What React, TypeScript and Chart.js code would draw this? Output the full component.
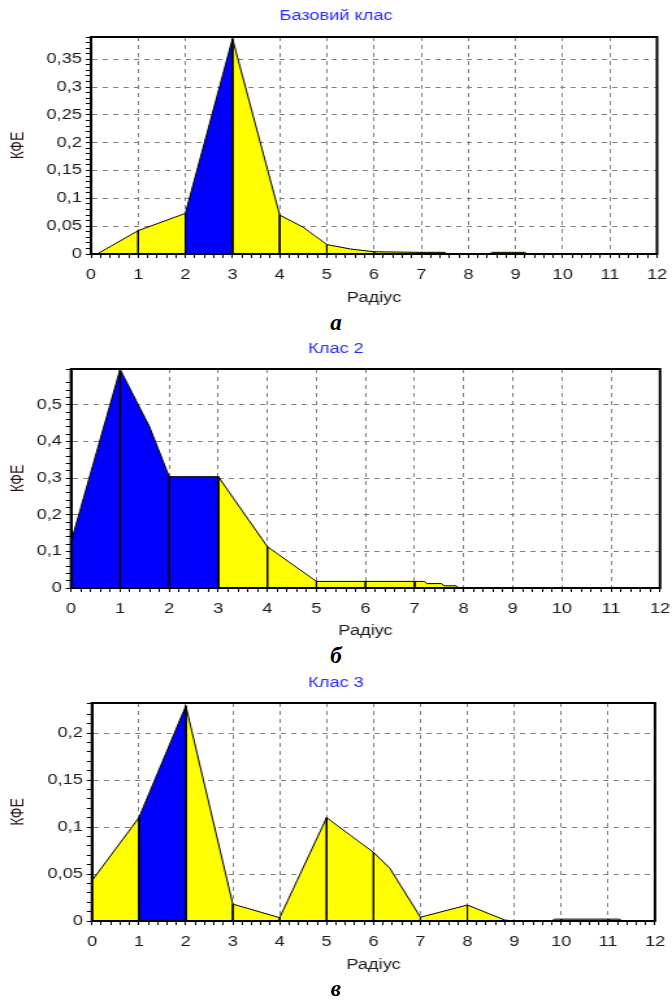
import React, { useEffect, useRef } from 'react';
import { Chart, registerables } from 'chart.js';

Chart.register(...registerables);

// ---------- data ----------
const radiusTicks = [0, 1, 2, 3, 4, 5, 6, 7, 8, 9, 10, 11, 12];
const radiusLabels = ['0', '1', '2', '3', '4', '5', '6', '7', '8', '9', '10', '11', '12'];

// Базовий клас
const radiusA = [0, 0.15, 1, 2, 3, 4, 4.5, 5, 5.5, 6, 7, 7.5, 7.55, 8, 8.45, 8.5, 9, 9.2, 9.25, 10, 11, 12];
const kfeA = [0, 0.001, 0.042, 0.073, 0.387, 0.07, 0.048, 0.017, 0.009, 0.004, 0.003, 0.003, 0, 0, 0, 0.003, 0.003, 0.003, 0, 0, 0, 0];
const blueA = [2];
const yTicksA = [0, 0.05, 0.1, 0.15, 0.2, 0.25, 0.3, 0.35];
const yLabelsA = ['0', '0,05', '0,1', '0,15', '0,2', '0,25', '0,3', '0,35'];

// Клас 2
const radiusB = [0, 1, 1.6, 2, 3, 4, 5, 6, 7, 7.2, 7.25, 7.55, 7.6, 7.85, 7.9, 8, 9, 10, 11, 12];
const kfeB = [0.125, 0.597, 0.44, 0.304, 0.304, 0.113, 0.018, 0.018, 0.018, 0.018, 0.012, 0.012, 0.006, 0.006, 0, 0, 0, 0, 0, 0];
const blueB = [0, 1, 2];
const yTicksB = [0, 0.1, 0.2, 0.3, 0.4, 0.5];
const yLabelsB = ['0', '0,1', '0,2', '0,3', '0,4', '0,5'];

// Клас 3
const radiusC = [0, 1, 2, 3, 4, 5, 6, 6.35, 7, 8, 8.8, 9, 9.8, 9.85, 10, 11, 11.25, 11.3, 12];
const kfeC = [0.043, 0.11, 0.229, 0.018, 0.0035, 0.11, 0.073, 0.056, 0.004, 0.017, 0.001, 0, 0, 0.002, 0.002, 0.002, 0.002, 0, 0];
const blueC = [1];
const yTicksC = [0, 0.05, 0.1, 0.15, 0.2];
const yLabelsC = ['0', '0,05', '0,1', '0,15', '0,2'];

// ---------- styling ----------
const FONT = '"Liberation Sans", Arial, sans-serif';
const BLUE = '#0000ff';
const YELLOW = '#ffff00';
const PAGE_W = 672;
const CANVAS_H = 310;
// the reference picture is stretched horizontally; draw narrower and stretch with CSS
const INNER_W = 517;
const SX = PAGE_W / INNER_W;

const near = (a: number, b: number) => Math.abs(a - b) < 1e-6;

function buildSegments(xs: number[], ys: number[], blue: number[]) {
  const sets: any[] = [];
  for (let i = 0; i < 12; i++) {
    const pts: { x: number; y: number }[] = [{ x: i, y: 0 }];
    for (let k = 0; k < xs.length; k++) {
      if (xs[k] >= i - 1e-9 && xs[k] <= i + 1 + 1e-9) pts.push({ x: xs[k], y: ys[k] });
    }
    pts.push({ x: i + 1, y: 0 });
    sets.push({
      data: pts,
      borderColor: '#000',
      borderWidth: 1,
      backgroundColor: blue.includes(i) ? BLUE : YELLOW,
      fill: 'origin',
      pointRadius: 0,
      tension: 0,
    });
  }
  return sets;
}

const framePlugin = {
  id: 'frame',
  afterDatasetsDraw(chart: any) {
    const { ctx, chartArea: a } = chart;
    ctx.save();
    ctx.strokeStyle = '#000';
    ctx.lineWidth = 2;
    ctx.strokeRect(a.left, a.top, a.right - a.left, a.bottom - a.top);
    ctx.restore();
  },
};

type Cfg = {
  title: string;
  xs: number[];
  ys: number[];
  blue: number[];
  yTicks: number[];
  yLabels: string[];
  yMax: number;
  yStep: number;
  left: number;
  right: number;
  plotTop: number;
  plotBottom: number;
};

function KfeChart({ cfg }: { cfg: Cfg }) {
  const ref = useRef<HTMLCanvasElement>(null);
  useEffect(() => {
    const canvas = ref.current!;
    const padSide = (PAGE_W - cfg.right) / SX; // same on both sides so the title is centred on the page
    const yTitleCenter = 18 / SX;
    const chart = new Chart(canvas, {
      type: 'line',
      data: { datasets: buildSegments(cfg.xs, cfg.ys, cfg.blue) },
      options: {
        animation: false,
        responsive: false,
        devicePixelRatio: 1,
        layout: { padding: { left: padSide, right: padSide, top: 0, bottom: 0 } },
        plugins: {
          legend: { display: false },
          tooltip: { enabled: false },
          title: {
            display: true,
            text: cfg.title,
            color: '#2a2aff',
            font: { family: FONT, size: 14, weight: 'normal' },
            padding: { top: 7.6, bottom: cfg.plotTop - 7.6 - 16.8 },
          },
        },
        scales: {
          x: {
            type: 'linear',
            min: 0,
            max: 12,
            afterFit: (s: any) => {
              s.height = CANVAS_H - cfg.plotBottom;
            },
            ticks: {
              stepSize: 0.2,
              autoSkip: false,
              maxRotation: 0,
              minRotation: 0,
              padding: 0,
              color: '#1a1a1a',
              font: { family: FONT, size: 14, lineHeight: 2.4 },
              callback: (v: any) => {
                const idx = radiusTicks.findIndex((t) => near(t, Number(v)));
                return idx >= 0 ? radiusLabels[idx] : '';
              },
            },
            grid: {
              color: (c: any) => (radiusTicks.some((t) => near(t, c.tick.value)) ? '#808080' : 'rgba(0,0,0,0)'),
              tickColor: '#000',
              tickLength: 4,
              lineWidth: 1,
            },
            border: { display: true, color: '#000', width: 2, dash: [4, 4] },
            title: {
              display: true,
              text: 'Радіус',
              color: '#1a1a1a',
              font: { family: FONT, size: 14 },
              padding: { top: 0, bottom: 3 },
            },
          },
          y: {
            type: 'linear',
            min: 0,
            max: cfg.yMax,
            afterFit: (s: any) => {
              s.width = cfg.left / SX - padSide;
            },
            ticks: {
              stepSize: cfg.yStep,
              autoSkip: false,
              padding: 3,
              color: '#1a1a1a',
              font: { family: FONT, size: 14 },
              callback: (v: any) => {
                const idx = cfg.yTicks.findIndex((t) => near(t, Number(v)));
                return idx >= 0 ? cfg.yLabels[idx] : '';
              },
            },
            grid: {
              color: (c: any) => (cfg.yTicks.some((t) => near(t, c.tick.value)) ? '#808080' : 'rgba(0,0,0,0)'),
              tickColor: '#000',
              tickLength: 4,
              lineWidth: 1,
            },
            border: { display: true, color: '#000', width: 2, dash: [4, 4] },
            title: {
              display: true,
              text: 'КФЕ',
              color: '#2a1010',
              font: { family: FONT, size: 14 },
              padding: { top: yTitleCenter - padSide - 8.4, bottom: 0 },
            },
          },
        },
      } as any,
      plugins: [framePlugin],
    });
    return () => chart.destroy();
  }, [cfg]);
  return (
    <canvas
      ref={ref}
      width={INNER_W}
      height={CANVAS_H}
      style={{ width: PAGE_W, height: CANVAS_H, display: 'block' }}
    />
  );
}

const cfgA: Cfg = {
  title: 'Базовий клас', xs: radiusA, ys: kfeA, blue: blueA, yTicks: yTicksA, yLabels: yLabelsA,
  yMax: 0.39, yStep: 0.01, left: 91, right: 657, plotTop: 37, plotBottom: 254,
};
const cfgB: Cfg = {
  title: 'Клас 2', xs: radiusB, ys: kfeB, blue: blueB, yTicks: yTicksB, yLabels: yLabelsB,
  yMax: 0.598, yStep: 0.02, left: 71, right: 660, plotTop: 36, plotBottom: 255,
};
const cfgC: Cfg = {
  title: 'Клас 3', xs: radiusC, ys: kfeC, blue: blueC, yTicks: yTicksC, yLabels: yLabelsC,
  yMax: 0.232, yStep: 0.01, left: 92, right: 655, plotTop: 36, plotBottom: 254,
};

const captionStyle = (top: number): React.CSSProperties => ({
  position: 'absolute',
  top,
  left: 0,
  width: PAGE_W,
  textAlign: 'center',
  fontFamily: '"Liberation Serif", "DejaVu Serif", serif',
  fontStyle: 'italic',
  fontWeight: 'bold',
  fontSize: 23,
  lineHeight: '24px',
  color: '#000',
});

export default function App() {
  return (
    <div style={{ position: 'absolute', left: 0, top: 0, width: PAGE_W, height: 1003, background: '#fff', overflow: 'hidden' }}>
      <div style={{ position: 'absolute', left: 0, top: 0 }}>
        <KfeChart cfg={cfgA} />
      </div>
      <div style={captionStyle(311)}>а</div>
      <div style={{ position: 'absolute', left: 0, top: 333 }}>
        <KfeChart cfg={cfgB} />
      </div>
      <div style={captionStyle(644)}>б</div>
      <div style={{ position: 'absolute', left: 0, top: 667 }}>
        <KfeChart cfg={cfgC} />
      </div>
      <div style={captionStyle(977)}>в</div>
    </div>
  );
}
